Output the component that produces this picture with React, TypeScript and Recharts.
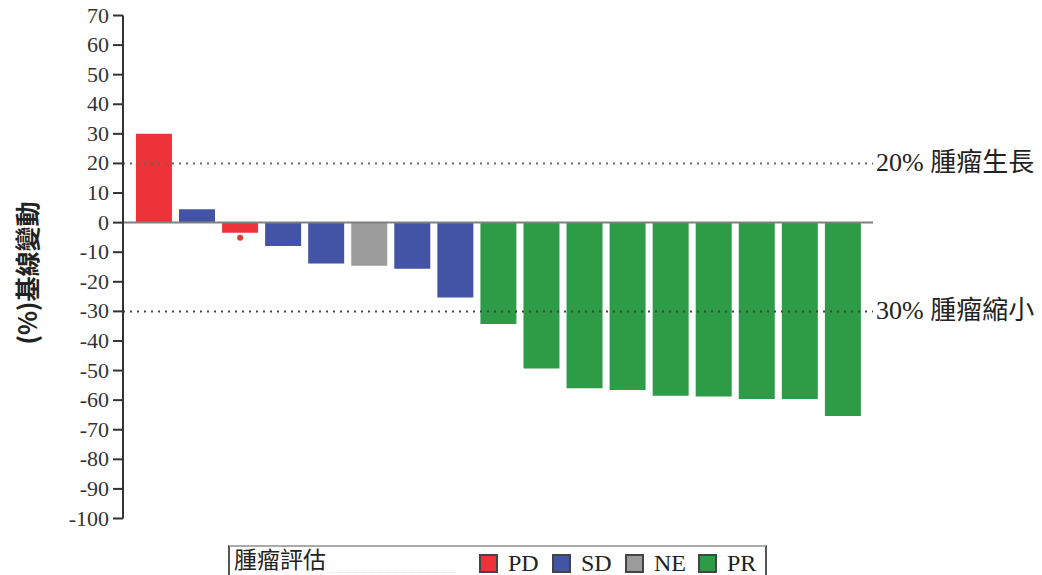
import React from 'react';
import { ComposedChart, Bar, Cell, Scatter, XAxis, YAxis, ReferenceLine } from 'recharts';

const patients = ['P1', 'P2', 'P3', 'P4', 'P5', 'P6', 'P7', 'P8', 'P9', 'P10', 'P11', 'P12', 'P13', 'P14', 'P15', 'P16', 'P17'];
const changes = [30, 4.5, -3.4, -7.9, -13.8, -14.6, -15.6, -25.3, -34.3, -49.3, -56, -56.6, -58.5, -58.8, -59.6, -59.6, -65.4];
const responses = ['PD', 'SD', 'PD', 'SD', 'SD', 'NE', 'SD', 'SD', 'PR', 'PR', 'PR', 'PR', 'PR', 'PR', 'PR', 'PR', 'PR'];
const marks: (number | null)[] = [null, null, -5.1, null, null, null, null, null, null, null, null, null, null, null, null, null, null];
const yTicks = [70, 60, 50, 40, 30, 20, 10, 0, -10, -20, -30, -40, -50, -60, -70, -80, -90, -100];
const legendKeys = ['PD', 'SD', 'NE', 'PR'];

const colors: Record<string, string> = {
  PD: '#ED3338',
  SD: '#4353A5',
  NE: '#9B9B9B',
  PR: '#2E9B47',
};

const data = patients.map((p, i) => ({ name: p, change: changes[i], mark: marks[i], resp: responses[i] }));

const serif = '"Liberation Serif", "Noto Sans CJK TC", serif';

const YTick = (props: any) => {
  const { x, y, payload } = props;
  return (
    <text x={x} y={y} dy={7} textAnchor="end" fill="#333" fontSize={22} fontFamily={serif}>
      {payload.value}
    </text>
  );
};

const sideLabel = (text: string) => (props: any) => {
  const vb = props.viewBox || {};
  return (
    <text x={vb.x + vb.width + 3} y={vb.y} dy={8} textAnchor="start" fill="#222" fontSize={26} fontFamily={serif}>
      {text}
    </text>
  );
};

const App: React.FC = () => {
  return (
    <div style={{ position: 'fixed', left: 0, top: 0, width: 1042, height: 575, background: '#fff', overflow: 'hidden', fontFamily: serif }}>
      <ComposedChart
        width={1042}
        height={545}
        data={data}
        margin={{ top: 15.5, right: 169, left: 0, bottom: 26.5 }}
        barCategoryGap="8%"
      >
        <XAxis dataKey="name" hide padding={{ left: 9.5, right: 8.5 }} />
        <YAxis
          width={123}
          domain={[-100, 70]}
          ticks={yTicks}
          interval={0}
          axisLine={{ stroke: '#333', strokeWidth: 2 }}
          tickLine={{ stroke: '#333', strokeWidth: 2 }}
          tickSize={10}
          tickMargin={4}
          tick={<YTick />}
        />
        <ReferenceLine y={20} stroke="#666" strokeWidth={2} strokeDasharray="2 5" label={sideLabel('20% 腫瘤生長')} />
        <ReferenceLine y={-30} stroke="#444" strokeWidth={2} strokeDasharray="2 5" label={sideLabel('30% 腫瘤縮小')} />
        <Bar dataKey="change" isAnimationActive={false}>
          {data.map((d, i) => (
            <Cell key={i} fill={colors[d.resp]} />
          ))}
        </Bar>
        <ReferenceLine y={0} stroke="#808080" strokeWidth={2} />
        <Scatter dataKey="mark" fill={colors.PD} isAnimationActive={false} shape={(p: any) => (p.cx != null && p.cy != null ? <circle cx={p.cx} cy={p.cy} r={3} fill={colors.PD} /> : <g />)} />
      </ComposedChart>

      <div style={{ position: 'absolute', left: 26, top: 198, width: 0, height: 150 }}>
        <div
          style={{
            position: 'absolute',
            left: -75,
            top: 60,
            width: 150,
            height: 30,
            transform: 'rotate(-90deg)',
            textAlign: 'center',
            fontFamily: '"Noto Sans CJK TC", "Noto Sans", sans-serif',
            fontWeight: 'bold',
            fontSize: 25,
            lineHeight: '30px',
            color: '#222',
            whiteSpace: 'nowrap',
          }}
        >
          (%)基線變動
        </div>
      </div>

      <div
        style={{
          position: 'absolute',
          left: 228,
          top: 545,
          width: 539,
          height: 32,
          border: '2px solid #555',
          borderTopColor: '#aaa',
          boxSizing: 'border-box',
          fontSize: 24,
          color: '#222',
        }}
      >
        <span style={{ position: 'absolute', left: 4, top: 1, lineHeight: '26px', whiteSpace: 'nowrap', fontSize: 23 }}>腫瘤評估</span>
        <span style={{ position: 'absolute', left: 100, width: 125, top: 25, borderBottom: '1px dotted #ddd' }} />
        {legendKeys.map((k, i) => (
          <span key={k} style={{ position: 'absolute', left: 249 + i * 73, top: 4, display: 'flex', alignItems: 'center' }}>
            <span
              style={{
                display: 'inline-block',
                width: 15,
                height: 15,
                background: colors[k],
                border: '2px solid #444',
                marginRight: 10,
              }}
            />
            <span style={{ lineHeight: '24px' }}>{k}</span>
          </span>
        ))}
      </div>
    </div>
  );
};

export default App;
